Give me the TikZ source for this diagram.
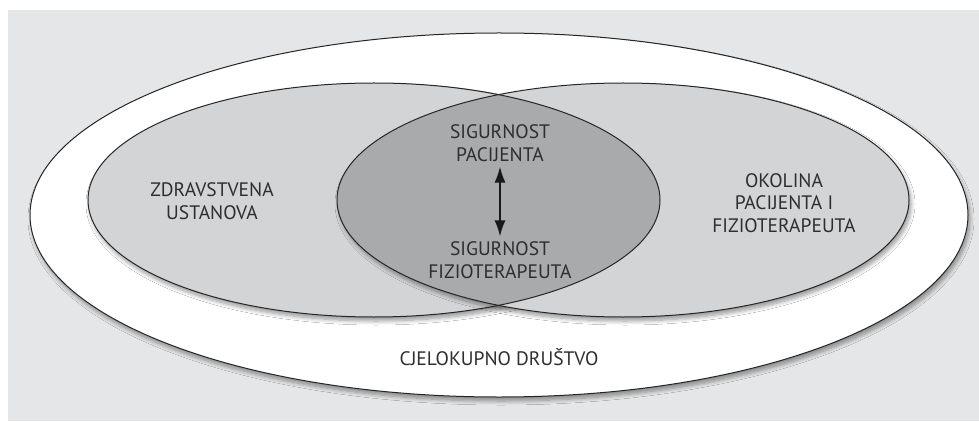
\documentclass[tikz,border=0pt]{standalone}
\usepackage{fontspec}
\setmainfont{PT Sans}
\usetikzlibrary{positioning,arrows.meta,shadows.blur}

\definecolor{bgGray}{HTML}{E5E6E7}
\definecolor{setGray}{HTML}{D3D4D6}
\definecolor{coreGray}{HTML}{A9AAAC}
\definecolor{inkGray}{HTML}{2E2E2E}

\tikzset{
  setline/.style={draw=black!85, line width=1pt},
  lbl/.style={font=\fontsize{19.5}{22.5}\selectfont, text=inkGray, align=center, inner sep=0pt},
  softshadow/.style={blur shadow={shadow xshift=2pt, shadow yshift=-4pt, shadow blur steps=8, shadow blur radius=4pt, shadow opacity=40}},
  twoway/.style={{Latex[length=16pt,width=11pt]}-{Latex[length=16pt,width=11pt]}, line width=2pt, draw=black!90}
}

\begin{document}
\begin{tikzpicture}[x=1pt, y=-1pt]
    \useasboundingbox (0,0) rectangle (979,422);
    \fill [bgGray] (8,10) rectangle (979,421);

    % the whole society
    \fill [white, softshadow] (499,215) ellipse [x radius=469, y radius=182];
    \draw [setline] (499,215) ellipse [x radius=469, y radius=182];

    % institution and surroundings
    \fill [setGray, softshadow] (374,200) ellipse [x radius=286, y radius=117];
    \fill [setGray, softshadow] (623,200) ellipse [x radius=286, y radius=117];
    \begin{scope}
        \clip (374,200) ellipse [x radius=286, y radius=117];
        \fill [coreGray] (623,200) ellipse [x radius=286, y radius=117];
    \end{scope}
    \draw [setline] (374,200) ellipse [x radius=286, y radius=117];
    \draw [setline] (623,200) ellipse [x radius=286, y radius=117];

    \node (inst) [lbl] at (212,201) {ZDRAVSTVENA\\USTANOVA};
    \node (env)  [lbl] at (784,203) {OKOLINA\\PACIJENTA I\\FIZIOTERAPEUTA};
    \node (pac)  [lbl] at (500,143) {SIGURNOST\\PACIJENTA};
    \node (fiz)  [lbl] at (500,260) {SIGURNOST\\FIZIOTERAPEUTA};
    \node (soc)  [lbl] at (499,357) {CJELOKUPNO DRUŠTVO};

    \draw [twoway, shorten <=5pt, shorten >=5pt] (pac.south) to (fiz.north);

\end{tikzpicture}
\end{document}
